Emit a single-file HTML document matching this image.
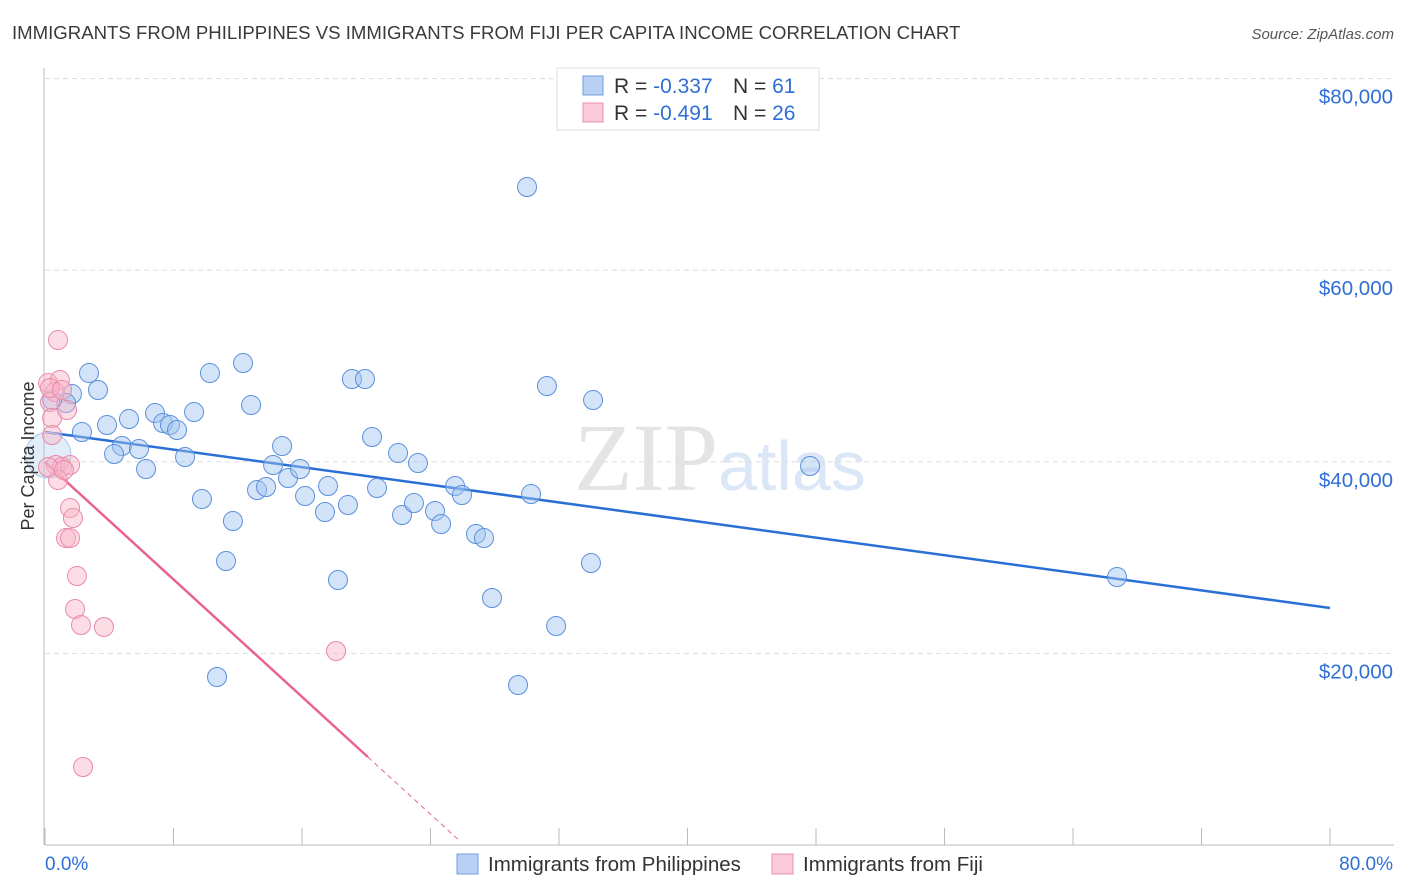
<!DOCTYPE html>
<html><head><meta charset="utf-8"><style>
body{margin:0;background:#fff;font-family:"Liberation Sans",sans-serif;}
svg{display:block}
</style></head><body>
<svg id="chart" width="1406" height="892" xmlns="http://www.w3.org/2000/svg" font-family="Liberation Sans, sans-serif">
<text x="12" y="39" font-size="18.6" fill="#3a3a3a">IMMIGRANTS FROM PHILIPPINES VS IMMIGRANTS FROM FIJI PER CAPITA INCOME CORRELATION CHART</text>
<text x="1394" y="39" font-size="15" fill="#555" text-anchor="end" font-style="italic">Source: ZipAtlas.com</text>
<text x="718" y="490" font-size="96" fill="#e4e4e4" text-anchor="end" font-family="Liberation Serif, serif">ZIP</text>
<text x="718" y="490" font-size="70" fill="#dbe6f6">atlas</text>
<g id="grid"></g>
<g id="axes"></g>
<g id="trend"></g>
<g id="pts"></g>
<text transform="translate(34,456) rotate(-90)" font-size="18" fill="#333" text-anchor="middle">Per Capita Income</text>
<g>
<rect x="557" y="68" width="262" height="62" fill="#fff" stroke="#ddd"/>
<rect x="583" y="76" width="20" height="19" fill="#b8d0f4" stroke="#6f9de0"/>
<rect x="583" y="103" width="20" height="19" fill="#fbcad8" stroke="#ec8fac"/>
<text x="614" y="93" font-size="21" fill="#333">R = <tspan fill="#2f6fd6">-0.337</tspan></text>
<text x="733" y="93" font-size="21" fill="#333">N = <tspan fill="#2f6fd6"> 61</tspan></text>
<text x="614" y="120" font-size="21" fill="#333">R = <tspan fill="#2f6fd6">-0.491</tspan></text>
<text x="733" y="120" font-size="21" fill="#333">N = <tspan fill="#2f6fd6">26</tspan></text>
</g>
<g>
<rect x="457" y="854" width="21" height="20" fill="#b8d0f4" stroke="#6f9de0"/>
<text x="488" y="871" font-size="20.5" fill="#333">Immigrants from Philippines</text>
<rect x="772" y="854" width="21" height="20" fill="#fbcad8" stroke="#ec8fac"/>
<text x="803" y="871" font-size="20.5" fill="#333">Immigrants from Fiji</text>
</g>
</svg>
<script>
const xTickVals=[0,8,16,24,32,40,48,56,64,72,80];
const yTickVals=[20000,40000,60000,80000];
const yTickLabels=["$20,000","$40,000","$60,000","$80,000"];
const phX=[2.74,3.30,1.68,1.31,2.30,3.86,5.23,4.79,4.30,5.85,6.29,6.85,7.35,7.78,8.22,9.28,8.72,10.27,9.77,11.70,11.27,12.33,12.83,10.71,13.20,13.76,14.76,14.20,15.13,15.88,16.19,17.43,17.62,18.24,18.86,19.11,19.92,20.36,20.67,21.98,22.23,22.97,23.22,24.28,24.66,25.53,25.96,26.83,27.33,27.83,29.45,30.01,30.26,31.25,31.82,33.99,34.12,47.63,66.74,0.19,0.44];
const phY=[49268,47494,47076,46136,43109,43840,44466,41648,40813,41335,39247,45092,44048,43840,43318,45197,40500,49268,36115,33819,29644,50311,45927,17536,37055,37368,41648,39664,38307,39247,36429,34759,37472,27661,35489,48642,48642,42587,37264,40917,34445,35698,39873,34863,33506,37472,36533,32462,32045,25782,16701,68682,36637,47911,22859,29435,46449,39560,27974,40708,46449];
const phSize=[1,1,1,1,1,1,1,1,1,1,1,1,1,1,1,1,1,1,1,1,1,1,1,1,1,1,1,1,1,1,1,1,1,1,1,1,1,1,1,1,1,1,1,1,1,1,1,1,1,1,1,1,1,1,1,1,1,1,1,2.4,1];
const fjX=[0.81,0.19,0.93,0.62,0.31,0.44,1.37,0.44,0.68,1.06,1.56,0.81,1.56,1.74,1.31,1.56,1.99,1.87,2.24,3.67,18.12,2.37,0.19,1.18,0.31,1.06];
const fjY=[52712,48223,48536,47285,46241,44570,45405,42796,39664,39456,39664,38099,35176,34132,32045,32045,28078,24633,22963,22755,20250,8142,39456,39142,47703,47494];
const phTrend=[43109,24738]; // y at x=0 and x=80
const fjTrend=[39977,-82578]; // y at x=0 and x=80
const fjSolidEnd=20.1, fjDashEnd=25.7;

const NS="http://www.w3.org/2000/svg";
const X=v=>45+v/80*1285;
const Y=v=>845-v/20000*191.6;
function mk(tag,attrs,parent){const e=document.createElementNS(NS,tag);for(const k in attrs)e.setAttribute(k,attrs[k]);document.getElementById(parent).appendChild(e);return e;}

yTickVals.forEach((v,i)=>{
  const l=mk('line',{x1:45,x2:1394,y1:Y(v),y2:Y(v),stroke:'#ddd','stroke-dasharray':'5,4'},'grid');
  
  
  const t=mk('text',{x:1393,y:Y(v)+25,'font-size':20.5,fill:'#2f6fd6','text-anchor':'end'},'axes');
  t.textContent=yTickLabels[i];
  
  
});
const ax=mk('line',{x1:45,x2:1394,y1:845,y2:845,stroke:'#bbb'},'axes');


const ay=mk('line',{x1:44,x2:44,y1:68,y2:845,stroke:'#bbb'},'axes');


xTickVals.forEach(v=>{
  const t=mk('line',{x1:X(v),x2:X(v),y1:828,y2:845,stroke:'#bbb'},'axes');
  
  
});
const xl0=mk('text',{x:45,y:870,'font-size':19,fill:'#2f6fd6'},'axes');xl0.textContent='0.0%';


const xl1=mk('text',{x:1393,y:870,'font-size':19,fill:'#2f6fd6','text-anchor':'end'},'axes');xl1.textContent='80.0%';



const fy=x=>fjTrend[0]+(fjTrend[1]-fjTrend[0])*x/80;
const bt=mk('line',{x1:X(0),y1:Y(phTrend[0]),x2:X(80),y2:Y(phTrend[1]),stroke:'#2a6fd6','stroke-width':2.5},'trend');


const pt=mk('line',{x1:X(0),y1:Y(fy(0)),x2:X(fjSolidEnd),y2:Y(fy(fjSolidEnd)),stroke:'#e8638f','stroke-width':2.5},'trend');


const pd=mk('line',{x1:X(fjSolidEnd),y1:Y(fy(fjSolidEnd)),x2:X(fjDashEnd),y2:Y(fy(fjDashEnd)),stroke:'#e8638f','stroke-width':1,'stroke-dasharray':'5,4'},'trend');



phX.forEach((x,i)=>{
  const big=phSize[i]>1;
  const c=mk('circle',{cx:X(x),cy:Y(phY[i]),r:9.5*phSize[i],fill:big?'rgba(160,195,240,0.3)':'rgba(160,195,240,0.45)',stroke:big?'#a9c4ee':'#5b8fdc','stroke-width':1},'pts');
  
  
});
fjX.forEach((x,i)=>{
  const c=mk('circle',{cx:X(x),cy:Y(fjY[i]),r:9.5,fill:'rgba(248,180,200,0.45)',stroke:'#e98aa8','stroke-width':1},'pts');
  
  
});
</script>
</body></html>
